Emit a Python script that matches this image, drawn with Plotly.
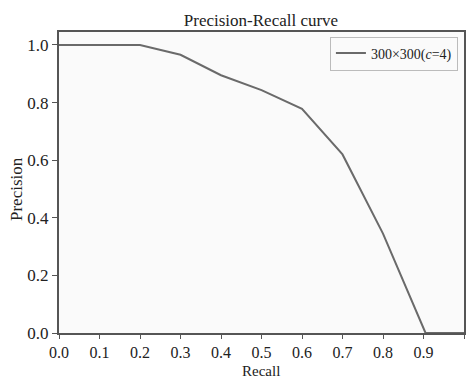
import plotly.graph_objects as go

recall = [0.0, 0.1, 0.2, 0.3, 0.4, 0.5, 0.6, 0.7, 0.8, 0.905, 1.0]
precision = [1.0, 1.0, 1.0, 0.966, 0.895, 0.843, 0.778, 0.62, 0.345, 0.0, 0.0]
series_name = "300×300(<i>c</i>=4)"
x_ticks = [0.0, 0.1, 0.2, 0.3, 0.4, 0.5, 0.6, 0.7, 0.8, 0.9, 1.0]
y_ticks = [0.0, 0.2, 0.4, 0.6, 0.8, 1.0]

font = "Times New Roman, serif"
axcol = "#555555"
txt = "#222222"
W, H = 471, 380
L, R, T, B = 59, 7, 32, 47

fig = go.Figure()
fig.add_trace(go.Scatter(x=recall, y=precision, mode="lines", name=series_name,
                         line=dict(color="#6a6a6a", width=2)))
fig.update_layout(
    width=W, height=H,
    margin=dict(l=L, r=R, t=T, b=B, autoexpand=False),
    paper_bgcolor="white", plot_bgcolor="#fafafa",
    font=dict(family=font, size=15, color=txt),
    title=dict(text="Precision-Recall curve", x=261 / W, xanchor="center",
               y=1 - 20 / H, yanchor="middle",
               font=dict(family=font, size=17, color=txt)),
    showlegend=True,
    legend=dict(x=0.985, y=0.985, xanchor="right", yanchor="top",
                bordercolor="#bbbbbb", borderwidth=1, bgcolor="#fafafa",
                font=dict(family=font, size=14, color=txt), itemwidth=30),
    annotations=[
        dict(text="Precision", textangle=-90, xref="paper", yref="paper",
             x=0, xshift=-(L - 16), y=(H - B - 189) / (H - T - B),
             xanchor="center", yanchor="middle", showarrow=False,
             font=dict(family=font, size=17, color=txt)),
        dict(text="Recall", xref="paper", yref="paper",
             x=(261 - L) / (W - L - R), y=0, yshift=-29, borderpad=0,
             xanchor="center", yanchor="top", showarrow=False,
             font=dict(family=font, size=15, color=txt)),
    ],
)
fig.update_xaxes(range=[0, 1.0], tickvals=x_ticks, ticktext=[f"{v:.1f}" for v in x_ticks],
                 showgrid=False, zeroline=False, showline=True, linecolor=axcol, linewidth=2,
                 mirror=True, ticks="outside", ticklen=4, tickcolor=axcol, automargin=False,
                 tickfont=dict(family=font, size=16, color=txt))
fig.update_yaxes(range=[0, 1.045], tickvals=y_ticks, ticktext=[f"{v:.1f}" for v in y_ticks],
                 showgrid=False, zeroline=False, showline=True, linecolor=axcol, linewidth=2,
                 mirror=True, ticks="outside", ticklen=5, tickcolor=axcol, automargin=False,
                 tickfont=dict(family=font, size=17, color=txt))
fig.write_html("out.html")
